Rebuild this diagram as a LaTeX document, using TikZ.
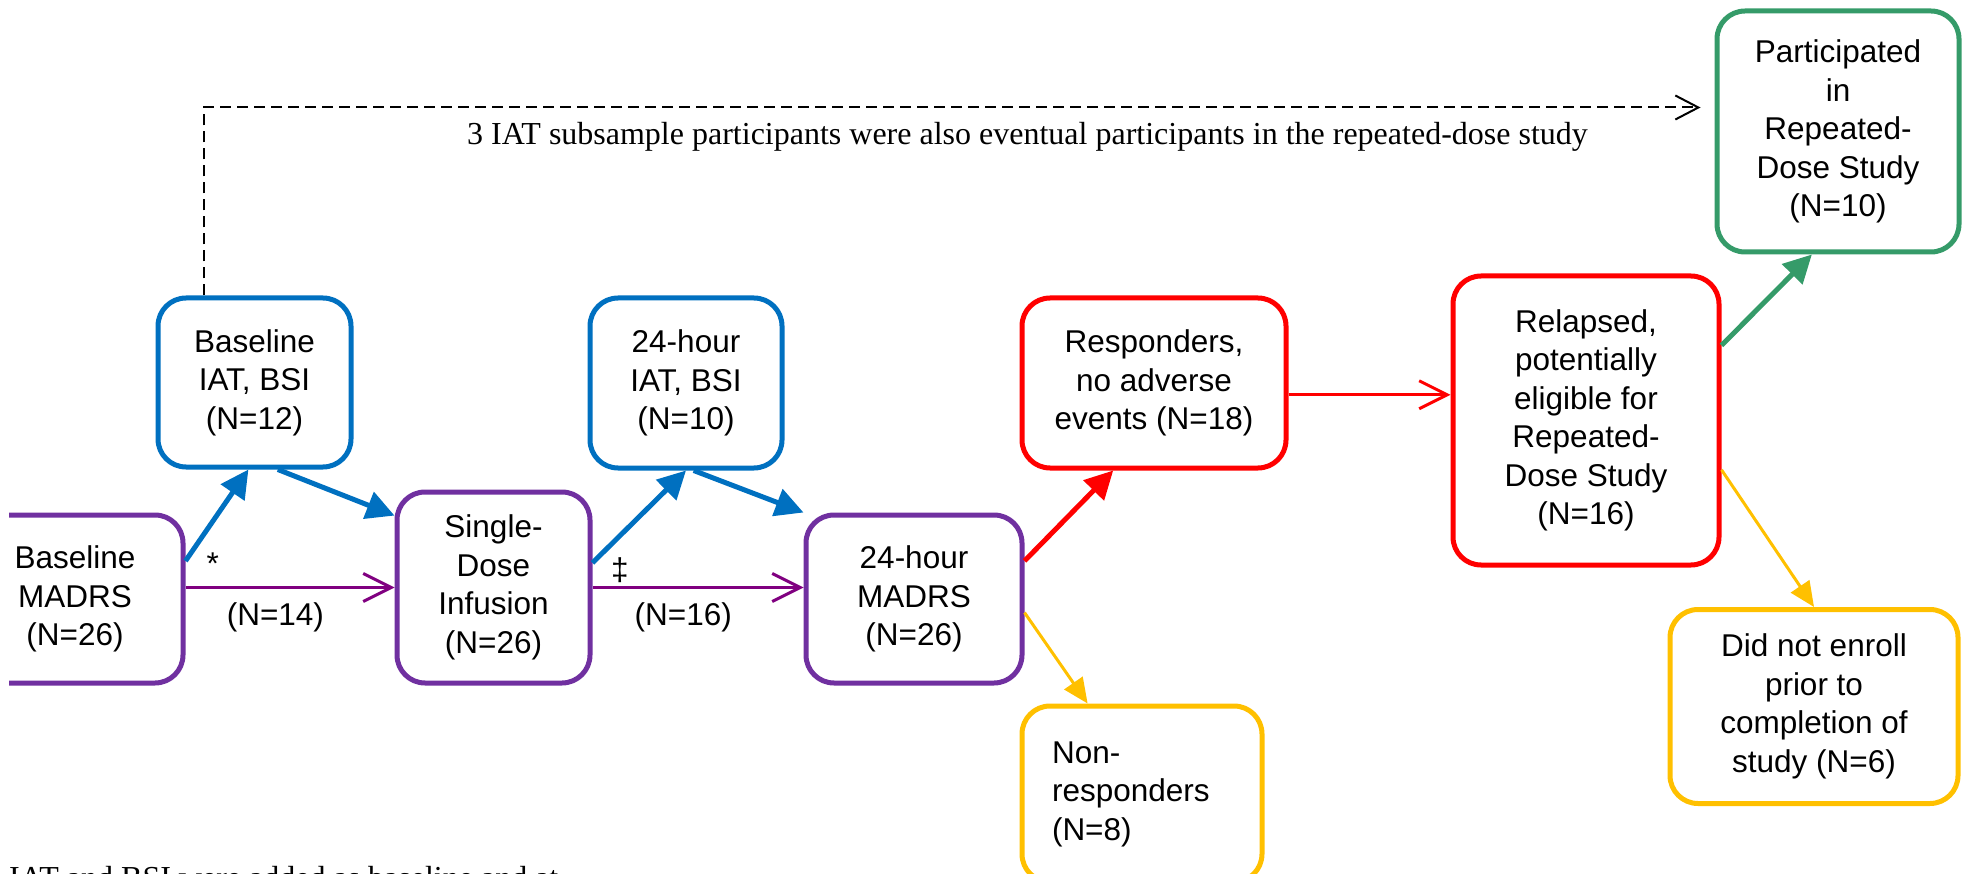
\documentclass[tikz,border=0pt]{standalone}
\usepackage{fontspec}
\setmainfont{Liberation Serif}
\newfontfamily\boxfont{Liberation Sans}
\usetikzlibrary{arrows.meta}

\definecolor{madrspurple}{RGB}{112,48,160}
\definecolor{linepurple}{RGB}{128,0,128}
\definecolor{iatblue}{RGB}{0,112,192}
\definecolor{respred}{RGB}{255,0,0}
\definecolor{nonyellow}{RGB}{255,192,0}
\definecolor{repgreen}{RGB}{53,155,105}

\tikzset{
  box/.style={rectangle, rounded corners=28pt, line width=5pt, align=center,
    inner sep=0pt, fill=white, font=\boxfont\fontsize{31.5}{38.5}\selectfont},
  purplebox/.style={box, draw=madrspurple},
  bluebox/.style={box, draw=iatblue},
  redbox/.style={box, draw=respred},
  greenbox/.style={box, draw=repgreen},
  yellowbox/.style={box, draw=nonyellow},
  lbl/.style={inner sep=0pt, text=black, font=\boxfont\fontsize{31.5}{38.5}\selectfont},
  notetext/.style={inner sep=0pt, font=\fontsize{32}{38}\selectfont},
  thickarrow/.style={line width=5pt, -{Triangle[length=28pt,width=28pt]}},
  thinarrow/.style={line width=3pt, -{Straight Barb[length=28pt,width=28pt]}},
  yellowarrow/.style={line width=3pt, draw=nonyellow, -{Triangle[length=25pt,width=22pt]}},
}

\begin{document}
\begin{tikzpicture}[x=1pt,y=-1pt]
\useasboundingbox (0,0) rectangle (1965,874);

% MADRS time points
\begin{scope}
  \clip (9,0) rectangle (1965,874);
  \node[purplebox, minimum width=216pt, minimum height=168pt] (madrs0) at (75,599) {Baseline\\MADRS\\(N=26)};
\end{scope}
\node[purplebox, minimum width=193pt, minimum height=191pt] (infusion) at (493.5,587.5) {Single-\\Dose\\Infusion\\(N=26)};
\node[purplebox, minimum width=216pt, minimum height=168pt] (madrs24) at (914,599) {24-hour\\MADRS\\(N=26)};

% IAT subsample
\node[bluebox, minimum width=193pt, minimum height=169pt] (iat0) at (254.5,382.5) {Baseline\\IAT, BSI\\(N=12)};
\node[bluebox, minimum width=192pt, minimum height=170pt] (iat24) at (686,383) {24-hour\\IAT, BSI\\(N=10)};

% outcomes
\node[redbox, minimum width=264pt, minimum height=170pt] (resp) at (1154,383) {Responders,\\no adverse\\events (N=18)};
\node[redbox, minimum width=266pt, minimum height=289pt] (relapse) at (1586,420.5) {Relapsed,\\potentially\\eligible for\\Repeated-\\Dose Study\\(N=16)};
\node[greenbox, minimum width=242pt, minimum height=241pt] (partic) at (1838,131.5) {Participated\\in\\Repeated-\\Dose Study\\(N=10)};
\node[yellowbox, minimum width=240pt, minimum height=176pt, text width=180pt, align=left] (nonresp) at (1142,794) {Non-\\responders\\(N=8)};
\node[yellowbox, minimum width=288pt, minimum height=194pt] (noenroll) at (1814,706.5) {Did not enroll\\prior to\\completion of\\study (N=6)};

% arrows
\draw[thickarrow, iatblue] (madrs0.19) -- (iat0.266);
\draw[thickarrow, iatblue] (iat0.285) -- (infusion.144);
\draw[thickarrow, iatblue] (infusion.14) -- (iat24.south);
\draw[thickarrow, iatblue] (iat24.275) -- (madrs24.north west);
\draw[thinarrow, linepurple] (madrs0.east |- infusion.west) -- (infusion.west)
  node[lbl, pos=.13, yshift=24pt] (star) {*}
  node[lbl, pos=.43, yshift=-30pt] (n14) {(N=14)};
\draw[thinarrow, linepurple] (infusion.east) -- (madrs24.west |- infusion.east)
  node[lbl, pos=.13, yshift=17pt] (ddag) {‡}
  node[lbl, pos=.43, yshift=-30pt] (n16) {(N=16)};
\draw[thickarrow, respred] (madrs24.19) -- (resp.245);
\draw[yellowarrow] (madrs24.-7) -- (nonresp.121);
\draw[thinarrow, respred] (resp.-5) -- (relapse.west |- resp.-5);
\draw[thickarrow, repgreen] (relapse.29) -- (partic.258);
\draw[yellowarrow] (relapse.-20) -- (noenroll.north);
\draw[line width=2pt, dash pattern=on 11pt off 6pt, -{Straight Barb[length=23pt,width=24pt]},
  shorten >=14pt] (iat0.120) |- (partic.169);

% notes
\node[notetext] (note) at (1027.5,137) {3 IAT subsample participants were also eventual participants in the repeated-dose study};
\node[notetext, anchor=base west] (foot) at (9,888) {IAT and BSI were added as baseline and at};
\end{tikzpicture}
\end{document}
